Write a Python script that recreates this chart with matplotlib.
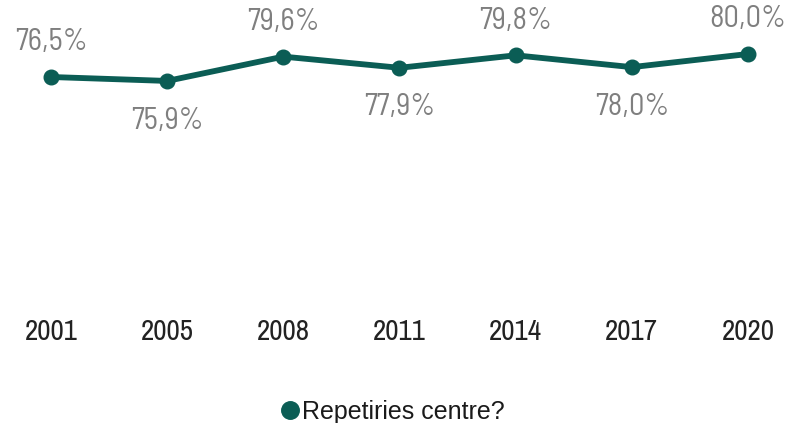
import matplotlib
matplotlib.use("Agg")
import matplotlib.pyplot as plt

years = ["2001", "2005", "2008", "2011", "2014", "2017", "2020"]
values = [76.5, 75.9, 79.6, 77.9, 79.8, 78.0, 80.0]
labels = ["76,5%", "75,9%", "79,6%", "77,9%", "79,8%", "78,0%", "80,0%"]
series_name = "Repetiries centre?"

LINE_COLOR = "#0b5d55"
LABEL_COLOR = "#7f7f7f"
YEAR_FONT = ["Archivo Narrow", "DejaVu Sans"]
LABEL_FONT = ["Barlow Semi Condensed", "DejaVu Sans"]


def main():
    fig = plt.figure(figsize=(7.88, 4.23), dpi=100)
    ax = fig.add_axes([0, 113 / 423, 1, 310 / 423])

    x = list(range(len(years)))
    ax.plot(x, values, color=LINE_COLOR, lw=4.2, marker="o", ms=10.5,
            solid_capstyle="round", label=series_name, zorder=3)

    # labels alternate above / below the points
    for i, (v, lab) in enumerate(zip(values, labels)):
        above = i % 2 == 0
        ax.annotate(lab, (i, v), xytext=(0, 25 if above else -28.5),
                    textcoords="offset points", ha="center", va="center",
                    fontsize=22, color=LABEL_COLOR, family=LABEL_FONT)

    ax.set_xlim(-51 / 116.17, 6 + 40 / 116.17)
    ax.set_ylim(80 - (310 - 54) / 6.57, 80 + 54 / 6.57)
    ax.set_xticks(x)
    ax.set_xticklabels(years, family=YEAR_FONT, fontsize=21, color="#222222")
    ax.tick_params(axis="x", length=0, pad=6)
    ax.set_yticks([])
    for s in ax.spines.values():
        s.set_visible(False)

    leg = fig.legend(loc="lower center", bbox_to_anchor=(0.5, -0.055), frameon=False,
                     handlelength=0.5, handletextpad=0.25, markerscale=1.2,
                     prop={"family": "Liberation Sans", "size": 18})
    for h in leg.legend_handles:
        h.set_linestyle("none")
    for t in leg.get_texts():
        t.set_color("#1a1a1a")

    fig.savefig("out.png", dpi=100, facecolor="white")
    plt.close(fig)


if __name__ == "__main__":
    main()
